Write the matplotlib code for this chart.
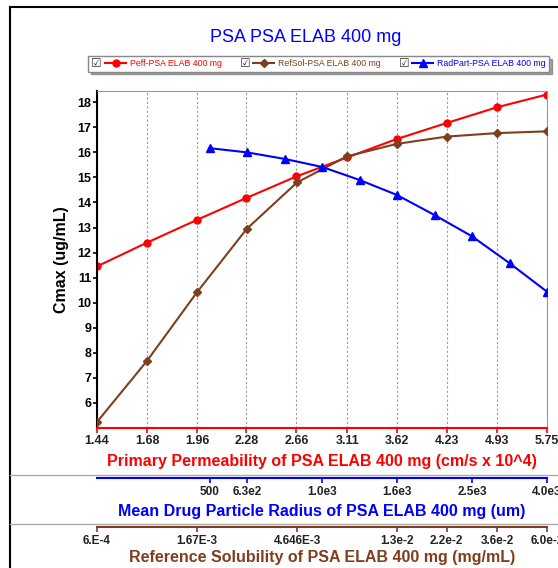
import matplotlib
matplotlib.use('Agg')
import matplotlib.pyplot as plt
from matplotlib.lines import Line2D
from matplotlib.legend_handler import HandlerLine2D
from matplotlib.ticker import NullLocator, FixedLocator

plt.rcParams['font.family'] = ['Liberation Sans', 'DejaVu Sans']

# data
perm = [1.44, 1.68, 1.96, 2.28, 2.66, 3.11, 3.62, 4.23, 4.93, 5.75]
cmax_perm = [11.45, 12.40, 13.31, 14.18, 15.04, 15.80, 16.53, 17.18, 17.80, 18.31]

solub = [6.0e-4, 9.99e-4, 1.67e-3, 2.78e-3, 4.646e-3, 7.74e-3, 1.29e-2, 2.15e-2, 3.6e-2, 6.0e-2]
cmax_solub = [5.24, 7.67, 10.42, 12.95, 14.80, 15.84, 16.34, 16.63, 16.77, 16.84]

radius = [500, 630, 794, 1000, 1260, 1587, 2000, 2520, 3175, 4000]
cmax_radius = [16.17, 16.00, 15.74, 15.42, 14.90, 14.30, 13.50, 12.65, 11.58, 10.44]

perm_labels = ['1.44', '1.68', '1.96', '2.28', '2.66', '3.11', '3.62', '4.23', '4.93', '5.75']
solub_ticks = [6.0e-4, 1.67e-3, 4.646e-3, 1.29e-2, 2.15e-2, 3.6e-2, 6.0e-2]
solub_labels = ['6.E-4', '1.67E-3', '4.646E-3', '1.3e-2', '2.2e-2', '3.6e-2', '6.0e-2']
radius_ticks = [500, 630, 1000, 1587, 2520, 4000]
radius_labels = ['500', '6.3e2', '1.0e3', '1.6e3', '2.5e3', '4.0e3']

RED = '#ff0000'
BROWN = '#7f3f1f'
BLUE = '#0000ff'

W, H = 558, 568
fig = plt.figure(figsize=(W / 100, H / 100), dpi=100)
ax = fig.add_axes([97 / W, 1 - 428 / H, 450 / W, 337 / H])

# primary (permeability) axis
l1, = ax.plot(perm, cmax_perm, color=RED, lw=1.5, marker='o', ms=5,
              label='Peff-PSA ELAB 400 mg')
ax.set_xscale('log')
ax.set_xlim(1.44, 5.75)
ax.set_ylim(5.0, 18.45)
ax.xaxis.set_major_locator(FixedLocator(perm))
ax.xaxis.set_minor_locator(NullLocator())
ax.set_xticklabels(perm_labels)
ax.set_yticks(range(6, 19))
ax.grid(True, axis='x', linestyle=(0, (2, 2)), color='#999999', lw=0.8)
ax.tick_params(axis='x', colors=RED, length=3.5, width=1.2, pad=1.5,
               labelsize=9, labelcolor='#222222')
ax.tick_params(axis='y', colors='black', length=3, width=1.2, pad=1,
               labelsize=9)
for t in ax.get_xticklabels() + ax.get_yticklabels():
    t.set_fontweight('bold')
ax.spines['bottom'].set_color(RED)
ax.spines['bottom'].set_linewidth(1.5)
ax.spines['left'].set_linewidth(1.5)
ax.spines['top'].set_color('#999999')
ax.spines['right'].set_color('#999999')
ax.set_xlabel('Primary Permeability of PSA ELAB 400 mg (cm/s x 10^4)',
              color=RED, fontsize=11.5, fontweight='bold', labelpad=5)
ax.set_ylabel('Cmax (ug/mL)', fontsize=11.5, fontweight='bold', labelpad=6)

# solubility axis
ax_s = ax.twiny()
l2, = ax_s.plot(solub, cmax_solub, color=BROWN, lw=1.5, marker='D', ms=4,
                label='RefSol-PSA ELAB 400 mg')
ax_s.set_xscale('log')
ax_s.set_xlim(6.0e-4, 6.0e-2)
ax_s.xaxis.set_major_locator(FixedLocator(solub_ticks))
ax_s.xaxis.set_minor_locator(NullLocator())
ax_s.set_xticklabels(solub_labels)

# particle radius axis
ax_r = ax.twiny()
l3, = ax_r.plot(radius, cmax_radius, color=BLUE, lw=1.5, marker='^', ms=6,
                label='RadPart-PSA ELAB 400 mg')
ax_r.set_xscale('log')
ax_r.set_xlim(250, 4000)
ax_r.xaxis.set_major_locator(FixedLocator(radius_ticks))
ax_r.xaxis.set_minor_locator(NullLocator())
ax_r.set_xticklabels(radius_labels)

for tw, col, off, lab, lp in [
        (ax_r, BLUE, 36, 'Mean Drug Particle Radius of PSA ELAB 400 mg (um)', 4.5),
        (ax_s, BROWN, 71.5, 'Reference Solubility of PSA ELAB 400 mg (mg/mL)', 2.5)]:
    tw.xaxis.set_ticks_position('bottom')
    tw.xaxis.set_label_position('bottom')
    for side in ['top', 'left', 'right']:
        tw.spines[side].set_visible(False)
    tw.spines['bottom'].set_position(('outward', off))
    tw.spines['bottom'].set_color(col)
    tw.spines['bottom'].set_linewidth(1.5)
    tw.tick_params(axis='x', colors=col, length=3.5, width=1.2, pad=2,
                   labelsize=8.5, labelcolor='#222222')
    for t in tw.get_xticklabels():
        t.set_fontweight('bold')
    tw.set_xlabel(lab, color=col, fontsize=11.5, fontweight='bold', labelpad=lp)


# legend entries carry a check box in front of the line sample
class CheckHandler(HandlerLine2D):
    def create_artists(self, legend, orig_handle, xdescent, ydescent,
                       width, height, fontsize, trans):
        box = fontsize * 1.6
        arts = super().create_artists(legend, orig_handle, xdescent - box,
                                      ydescent, width - box, height,
                                      fontsize, trans)
        cb = plt.Text(-xdescent, height / 2 - ydescent, '\u2611',
                      fontsize=fontsize * 1.35, color='#333333',
                      va='center', ha='left', transform=trans,
                      family='DejaVu Sans')
        return list(arts) + [cb]


leg = fig.legend([l1, l2, l3], [l1.get_label(), l2.get_label(), l3.get_label()],
                 handler_map={Line2D: CheckHandler()},
                 loc='center', bbox_to_anchor=(318.5 / W, 1 - 64 / H),
                 ncol=3, fontsize=6.3, labelcolor='linecolor',
                 handlelength=4.0, handletextpad=0.45, columnspacing=2.0,
                 borderpad=0.35, borderaxespad=0, frameon=True,
                 fancybox=False, shadow=True, edgecolor='#888888')
leg.get_frame().set_linewidth(1.0)

fig.text(306 / W, 1 - 38 / H, 'PSA PSA ELAB 400 mg', color=BLUE,
         fontsize=13, ha='center', va='center')

# outer frame and section separators
fig.add_artist(Line2D([10 / W, 10 / W], [1 - 7 / H, 0], color='black', lw=1.5,
                      transform=fig.transFigure))
fig.add_artist(Line2D([10 / W, 1], [1 - 7 / H, 1 - 7 / H], color='black', lw=1.5,
                      transform=fig.transFigure))
for yy in [475, 524]:
    fig.add_artist(Line2D([10 / W, 1], [1 - yy / H, 1 - yy / H], color='#aaaaaa',
                          lw=1.0, transform=fig.transFigure))

fig.savefig('out.png', dpi=100)
